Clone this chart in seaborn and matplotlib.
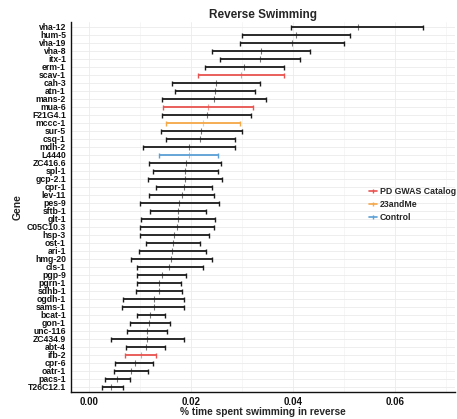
import numpy as np
import pandas as pd
import matplotlib
matplotlib.use("Agg")
import matplotlib.pyplot as plt
from matplotlib.lines import Line2D
import seaborn as sns

genes = ["vha-12", "hum-5", "vha-19", "vha-8", "itx-1", "erm-1", "scav-1", "cah-3",
         "atn-1", "mans-2", "mua-6", "F21G4.1", "mccc-1", "sur-5", "csq-1", "mdh-2",
         "L4440", "ZC416.6", "spl-1", "gcp-2.1", "cpr-1", "lev-11", "pes-9", "sftb-1",
         "glt-1", "C05C10.3", "hsp-3", "ost-1", "ari-1", "hmg-20", "cls-1", "pgp-9",
         "pgrn-1", "sdhb-1", "ogdh-1", "sams-1", "bcat-1", "gon-1", "unc-116", "ZC434.9",
         "abt-4", "ifb-2", "cpr-6", "oatr-1", "pacs-1", "T26C12.1"]
mid = [0.0527, 0.0406, 0.0399, 0.0337, 0.0335, 0.0305, 0.0299, 0.0250,
       0.0248, 0.0245, 0.0233, 0.0231, 0.0223, 0.0220, 0.0218, 0.0196,
       0.0196, 0.0190, 0.0189, 0.0188, 0.0186, 0.0182, 0.0177, 0.0175,
       0.0175, 0.0173, 0.0168, 0.0165, 0.0163, 0.0162, 0.0158, 0.0143,
       0.0137, 0.0137, 0.0128, 0.0127, 0.0121, 0.0119, 0.0115, 0.0115,
       0.0112, 0.0102, 0.0090, 0.0083, 0.0055, 0.0044]
low = [0.0397, 0.0300, 0.0297, 0.0241, 0.0257, 0.0227, 0.0215, 0.0164,
       0.0170, 0.0144, 0.0145, 0.0143, 0.0151, 0.0141, 0.0152, 0.0106,
       0.0137, 0.0119, 0.0126, 0.0116, 0.0132, 0.0119, 0.0100, 0.0121,
       0.0102, 0.0100, 0.0101, 0.0113, 0.0098, 0.0082, 0.0094, 0.0094,
       0.0094, 0.0092, 0.0068, 0.0066, 0.0094, 0.0080, 0.0075, 0.0044,
       0.0074, 0.0072, 0.0051, 0.0049, 0.0031, 0.0027]
high = [0.0655, 0.0511, 0.0500, 0.0434, 0.0414, 0.0382, 0.0382, 0.0336,
        0.0325, 0.0347, 0.0321, 0.0318, 0.0297, 0.0300, 0.0286, 0.0286,
        0.0254, 0.0260, 0.0253, 0.0261, 0.0242, 0.0245, 0.0256, 0.0230,
        0.0248, 0.0246, 0.0235, 0.0218, 0.0229, 0.0241, 0.0223, 0.0191,
        0.0181, 0.0182, 0.0186, 0.0187, 0.0150, 0.0160, 0.0154, 0.0186,
        0.0150, 0.0132, 0.0126, 0.0117, 0.0080, 0.0067]
red_genes = ["scav-1", "mua-6", "ifb-2"]
orange_genes = ["mccc-1"]
blue_genes = ["L4440"]

group_colors = {"other": "#1a1a1a", "PD GWAS Catalog": "#e8534f",
                "23andMe": "#f5a847", "Control": "#5b9fd6"}

df = pd.DataFrame({"gene": genes, "mid": mid, "low": low, "high": high})
df["group"] = "other"
df.loc[df["gene"].isin(red_genes), "group"] = "PD GWAS Catalog"
df.loc[df["gene"].isin(orange_genes), "group"] = "23andMe"
df.loc[df["gene"].isin(blue_genes), "group"] = "Control"
df["pos"] = np.arange(len(df))

sns.set_style("white")
plt.rcParams["font.family"] = ["Liberation Sans", "DejaVu Sans"]

fig = plt.figure(figsize=(4.57, 4.19), dpi=100)
ax = fig.add_axes([0.155, 0.065, 0.84, 0.883])

# midpoint ticks through seaborn's categorical axis
sns.stripplot(data=df, x="mid", y="gene", hue="group", palette=group_colors,
              marker="|", s=4, linewidth=0.8, jitter=False, ax=ax,
              legend=False, zorder=3, alpha=0.6)

for grp, sub in df.groupby("group"):
    ax.errorbar(sub["mid"], sub["pos"],
                xerr=[sub["mid"] - sub["low"], sub["high"] - sub["mid"]],
                fmt="none", ecolor=group_colors[grp], elinewidth=1.3,
                capsize=1.8, capthick=1.0, zorder=2)

ax.set_xlim(-0.0035, 0.0717)
ax.set_ylim(len(df) - 0.4, -0.6)
ax.set_xticks([0.00, 0.02, 0.04, 0.06])
ax.set_xticklabels(["0.00", "0.02", "0.04", "0.06"])
ax.set_xticks([0.01, 0.03, 0.05, 0.07], minor=True)
ax.grid(True, which="major", color="#ebebeb", linewidth=0.6)
ax.grid(True, which="minor", axis="x", color="#f3f3f3", linewidth=0.5)
ax.set_axisbelow(True)

for s in ["top", "right"]:
    ax.spines[s].set_visible(False)
for s in ["left", "bottom"]:
    ax.spines[s].set_color("#111111")
    ax.spines[s].set_linewidth(1.0)

ax.tick_params(axis="y", labelsize=6.2, length=2.5, width=0.8, pad=1, colors="#111111")
ax.tick_params(axis="x", labelsize=7, length=2.5, width=0.8, pad=1.5, colors="#111111")
ax.tick_params(axis="x", which="minor", length=0)
for lbl in ax.get_yticklabels() + ax.get_xticklabels():
    lbl.set_fontweight("bold")

ax.set_xlabel("% time spent swimming in reverse", fontsize=7.3, fontweight="bold", labelpad=0)
ax.set_ylabel("Gene", fontsize=7.5, fontweight="bold", labelpad=3)
ax.set_title("Reverse Swimming", fontsize=8.5, fontweight="bold", pad=3)

handles = [Line2D([0], [0], color=group_colors[g], lw=1.2, marker="|", markersize=3)
           for g in ["PD GWAS Catalog", "23andMe", "Control"]]
ax.legend(handles, ["PD GWAS Catalog", "23andMe", "Control"], loc="center left",
          bbox_to_anchor=(0.755, 0.505), frameon=False, handlelength=1.0,
          handletextpad=0.3, labelspacing=0.45, prop={"size": 6.3, "weight": "bold"})

fig.savefig("out.png", dpi=100)
